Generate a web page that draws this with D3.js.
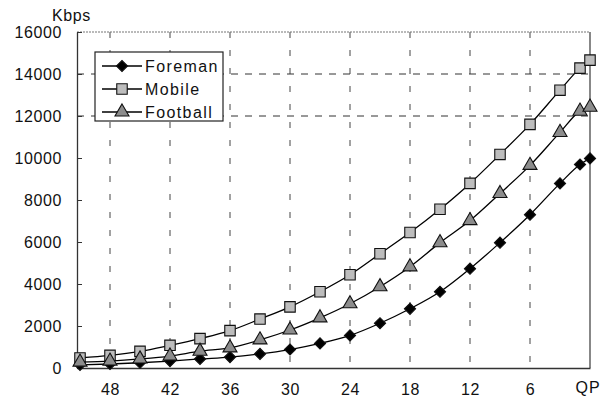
<!DOCTYPE html>
<html>
<head>
<meta charset="utf-8">
<title>Kbps vs QP</title>
<script src="https://d3js.org/d3.v7.min.js"></script>
<style>
body { margin: 0; background: #fff; }
text { font-family: "Liberation Sans", Arial, sans-serif; fill: #111; }
</style>
</head>
<body>
<div class="chart"></div>
<script>
// QP values (left to right on the reversed axis)
var qp = [51, 48, 45, 42, 39, 36, 33, 30, 27, 24, 21, 18, 15, 12, 9, 6, 3, 1, 0];
var foreman  = [150, 190, 250, 330, 430, 520, 670, 880, 1170, 1550, 2130, 2820, 3630, 4730, 5970, 7300, 8790, 9690, 9980];
var mobile   = [480, 600, 790, 1080, 1400, 1780, 2330, 2910, 3630, 4440, 5440, 6450, 7560, 8790, 10170, 11600, 13230, 14280, 14660];
var football = [280, 330, 430, 570, 800, 960, 1340, 1810, 2390, 3060, 3870, 4820, 5970, 7020, 8310, 9650, 11220, 12230, 12420];
var seriesNames = ["Foreman", "Mobile", "Football"];
var xTicks = [48, 42, 36, 30, 24, 18, 12, 6];
var yTicks = [0, 2000, 4000, 6000, 8000, 10000, 12000, 14000, 16000];
var yGrid = [12000, 14000];

var width = 612, height = 398;
var margin = {top: 32, right: 22, bottom: 30, left: 77};

var svg = d3.select(".chart").append("svg")
    .attr("width", width)
    .attr("height", height);

var xScale = d3.scaleLinear()
    .domain([51.3, 0])
    .range([margin.left, width - margin.right]);

var yScale = d3.scaleLinear()
    .domain([0, 16000])
    .range([height - margin.bottom, margin.top]);

var x0 = xScale.range()[0], x1 = xScale.range()[1];
var yb = yScale(0), yt = yScale(16000);

// grid lines
svg.append("g").selectAll("line")
    .data(xTicks)
    .enter().append("line")
    .attr("x1", function(d) { return xScale(d); })
    .attr("x2", function(d) { return xScale(d); })
    .attr("y1", yt).attr("y2", yb)
    .attr("stroke", "#444")
    .attr("stroke-width", 1)
    .attr("stroke-dasharray", "6,12");

svg.append("g").selectAll("line")
    .data(yGrid)
    .enter().append("line")
    .attr("x1", x0).attr("x2", x1)
    .attr("y1", function(d) { return yScale(d); })
    .attr("y2", function(d) { return yScale(d); })
    .attr("stroke", "#333")
    .attr("stroke-width", 1)
    .attr("stroke-dasharray", "7,7");

// frame
svg.append("line").attr("x1", x0).attr("x2", x1).attr("y1", yt).attr("y2", yt)
    .attr("stroke", "#777").attr("stroke-width", 1.2).attr("stroke-dasharray", "2,1");
svg.append("line").attr("x1", x1).attr("x2", x1).attr("y1", yt).attr("y2", yb)
    .attr("stroke", "#555").attr("stroke-width", 1.4);

// y axis
var yAxis = d3.axisLeft(yScale).tickValues(yTicks).tickFormat(d3.format("d"))
    .tickSizeInner(-5).tickSizeOuter(0).tickPadding(15);
var gy = svg.append("g")
    .attr("transform", "translate(" + x0 + ",0)")
    .call(yAxis);
gy.select(".domain").attr("stroke", "#333").attr("stroke-width", 1.3);
gy.selectAll(".tick line").attr("stroke", "#333");
gy.selectAll("text").style("font-size", "16px").style("letter-spacing", "0.6px").attr("fill", "#111");

// x axis
var xAxis = d3.axisBottom(xScale).tickValues(xTicks).tickSize(0).tickPadding(16);
var gx = svg.append("g")
    .attr("transform", "translate(0," + yb + ")")
    .call(xAxis);
gx.select(".domain").attr("stroke", "#333").attr("stroke-width", 1.3);
gx.selectAll("text").style("font-size", "16px").style("letter-spacing", "0.6px").attr("fill", "#111");

svg.append("text")
    .attr("x", xScale(0) - 2).attr("y", 393)
    .attr("text-anchor", "middle")
    .style("font-size", "16px").style("letter-spacing", "1px")
    .text("QP");

svg.append("text")
    .attr("x", 52).attr("y", 21)
    .style("font-size", "16px").style("letter-spacing", "0.6px")
    .text("Kbps");

// series
var series = [
  {name: seriesNames[0], values: foreman,  shape: d3.symbolSquare,   size: 62, rot: 45, fill: "#000"},
  {name: seriesNames[1], values: mobile,   shape: d3.symbolSquare,   size: 110, rot: 0, fill: "#bdbdbd"},
  {name: seriesNames[2], values: football, shape: d3.symbolTriangle, size: 85, rot: 0, fill: "#8c8c8c"}
];

var line = d3.line()
    .x(function(d, i) { return xScale(qp[i]); })
    .y(function(d) { return yScale(d); })
    .curve(d3.curveMonotoneX);

series.forEach(function(s) {
  svg.append("path")
      .datum(s.values)
      .attr("fill", "none")
      .attr("stroke", "#000")
      .attr("stroke-width", 1.3)
      .attr("d", line);

  svg.append("g").selectAll("path")
      .data(s.values)
      .enter().append("path")
      .attr("transform", function(d, i) {
        return "translate(" + xScale(qp[i]) + "," + yScale(d) + ") rotate(" + s.rot + ")";
      })
      .attr("d", d3.symbol().type(s.shape).size(s.size))
      .attr("fill", s.fill)
      .attr("stroke", "#111")
      .attr("stroke-width", 1.1);
});

// legend
var legend = svg.append("g").attr("transform", "translate(95,52)");
legend.append("rect")
    .attr("width", 128).attr("height", 69)
    .attr("fill", "#fff")
    .attr("stroke", "#222")
    .attr("stroke-width", 1.2);

var items = legend.selectAll(".item")
    .data(series)
    .enter().append("g")
    .attr("class", "item")
    .attr("transform", function(d, i) { return "translate(0," + (14 + i * 23) + ")"; });

items.append("line")
    .attr("x1", 7).attr("x2", 47)
    .attr("stroke", "#000").attr("stroke-width", 1.3);
items.append("path")
    .attr("transform", function(d) { return "translate(27,0) rotate(" + d.rot + ")"; })
    .attr("d", function(d) { return d3.symbol().type(d.shape).size(d.size)(); })
    .attr("fill", function(d) { return d.fill; })
    .attr("stroke", "#111").attr("stroke-width", 1.1);
items.append("text")
    .attr("x", 50).attr("y", 6)
    .style("font-size", "16px").style("letter-spacing", "1.4px")
    .text(function(d) { return d.name; });
</script>
</body>
</html>
